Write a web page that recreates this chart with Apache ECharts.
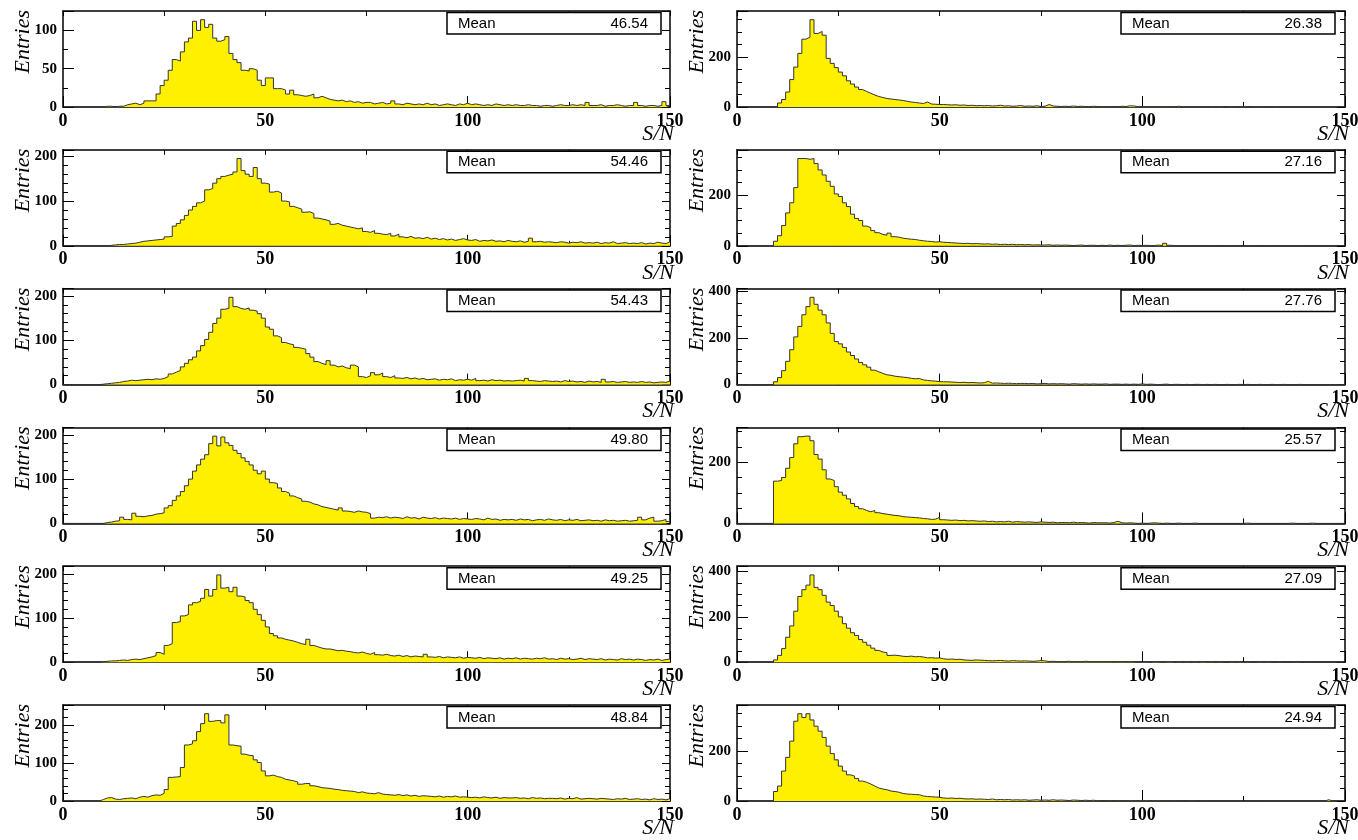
<!DOCTYPE html>
<html>
<head>
<meta charset="utf-8">
<title>S/N distributions</title>
<script src="https://cdn.jsdelivr.net/npm/echarts@6/dist/echarts.min.js"></script>
<style>
  html, body { margin: 0; padding: 0; background: #ffffff; }
  #chart { width: 1358px; height: 840px; }
</style>
</head>
<body>
<div id="chart"></div>
<script>
// S/N histograms, one bin per unit from 0 to 150 (150 bins each)
const binWidth = 1

const snLeft1 = [
  0, 0, 0, 0, 0, 0, 0, 0, 0, 0,
  1, 1, 0, 1, 1, 3, 4, 5, 3, 5,
  8, 8, 8, 17, 28, 35, 48, 62, 60, 72,
  85, 90, 112, 100, 114, 104, 108, 90, 86, 88,
  92, 70, 62, 58, 48, 47, 50, 48, 35, 28,
  38, 38, 24, 24, 22, 17, 22, 16, 15, 14,
  15, 17, 12, 14, 12, 10, 9, 8, 9, 7,
  8, 6, 7, 5, 6, 6, 4, 5, 6, 4,
  5, 8, 4, 3, 5, 4, 3, 4, 3, 5,
  3, 4, 2, 3, 4, 3, 2, 4, 3, 5,
  3, 4, 3, 2, 3, 2, 4, 3, 2, 3,
  2, 3, 2, 2, 3, 2, 2, 1, 2, 2,
  1, 2, 3, 2, 2, 3, 2, 3, 2, 6,
  2, 2, 3, 1, 2, 2, 3, 2, 1, 2,
  2, 6, 2, 1, 2, 2, 1, 2, 7, 2
]
const snLeft2 = [
  0, 0, 0, 0, 0, 0, 0, 0, 0, 0,
  0, 1, 2, 3, 3, 4, 5, 6, 8, 10,
  11, 12, 13, 14, 15, 20, 21, 44, 50, 58,
  68, 80, 88, 96, 100, 125, 128, 140, 150, 155,
  158, 160, 165, 195, 168, 160, 155, 175, 150, 140,
  138, 120, 122, 118, 100, 98, 88, 85, 82, 75,
  76, 72, 62, 60, 58, 55, 48, 50, 46, 44,
  42, 40, 38, 40, 32, 30, 34, 28, 26, 25,
  28, 22, 26, 20, 18, 21, 17, 18, 16, 19,
  15, 17, 14, 16, 13, 15, 12, 14, 16, 13,
  12, 14, 10, 12, 11, 13, 10, 11, 9, 12,
  10, 9, 11, 8, 10, 17, 9, 10, 8, 9,
  8, 7, 9, 8, 6, 8, 7, 9, 6, 7,
  6, 8, 5, 7, 6, 9, 5, 6, 7, 5,
  6, 5, 7, 4, 6, 5, 8, 6, 5, 9
]
const snLeft3 = [
  0, 0, 0, 0, 0, 0, 0, 0, 0, 1,
  2, 3, 4, 5, 7, 8, 10, 9, 10, 11,
  12, 11, 13, 12, 14, 18, 24, 28, 32, 40,
  48, 56, 62, 76, 88, 102, 118, 138, 150, 170,
  172, 197, 176, 172, 170, 173, 168, 166, 160, 150,
  130, 125, 110, 106, 95, 92, 90, 84, 82, 80,
  70, 62, 52, 48, 45, 54, 44, 40, 42, 38,
  36, 44, 40, 18, 16, 20, 27, 22, 26, 18,
  16, 20, 15, 14, 16, 13, 15, 12, 14, 11,
  12, 13, 10, 12, 11, 13, 9, 11, 10, 12,
  10, 14, 9, 10, 8, 11, 9, 10, 8, 9,
  8, 9, 10, 8, 14, 9, 8, 7, 9, 8,
  7, 8, 6, 9, 7, 8, 6, 7, 5, 8,
  6, 7, 5, 12, 6, 7, 5, 6, 7, 5,
  6, 5, 7, 5, 6, 4, 5, 6, 5, 8
]
const snLeft4 = [
  0, 0, 0, 0, 0, 0, 0, 0, 0, 0,
  2, 3, 5, 6, 14, 9, 8, 23, 16, 15,
  17, 18, 21, 22, 24, 35, 40, 52, 62, 72,
  85, 100, 118, 132, 145, 155, 180, 197, 175, 195,
  182, 176, 165, 158, 148, 140, 132, 120, 112, 118,
  100, 92, 90, 80, 72, 68, 62, 58, 55, 50,
  48, 44, 42, 38, 36, 34, 32, 30, 35, 28,
  27, 25, 28, 26, 25, 22, 12, 14, 13, 15,
  12, 14, 13, 11, 15, 12, 13, 10, 14, 12,
  11, 13, 10, 12, 11, 10, 12, 9, 11, 10,
  9, 11, 10, 8, 12, 9, 10, 7, 9, 8,
  9, 7, 10, 8, 9, 6, 8, 9, 7, 10,
  8, 7, 9, 6, 8, 7, 9, 6, 7, 8,
  6, 7, 5, 8, 6, 7, 5, 6, 7, 5,
  6, 7, 14, 8, 12, 14, 5, 6, 9, 4
]
const snLeft5 = [
  0, 0, 0, 0, 0, 0, 0, 0, 0, 1,
  2, 3, 3, 4, 5, 4, 6, 7, 6, 8,
  10, 12, 15, 22, 18, 38, 42, 90, 92, 105,
  108, 130, 135, 138, 145, 165, 150, 165, 198, 168,
  170, 160, 170, 150, 148, 140, 135, 120, 108, 95,
  80, 65, 60, 55, 52, 50, 48, 45, 42, 40,
  52, 38, 35, 32, 30, 30, 28, 26, 27, 25,
  24, 22, 21, 23, 20, 18, 22, 17, 16, 18,
  15, 14, 16, 13, 15, 12, 14, 13, 12, 18,
  12, 11, 13, 10, 12, 11, 10, 12, 9, 11,
  10, 9, 11, 8, 10, 9, 8, 10, 7, 9,
  8, 10, 7, 9, 8, 7, 9, 8, 10, 7,
  8, 6, 9, 7, 8, 6, 7, 9, 6, 8,
  7, 6, 8, 5, 7, 6, 5, 8, 6, 7,
  5, 7, 6, 4, 6, 5, 7, 4, 6, 7
]
const snLeft6 = [
  0, 0, 0, 0, 0, 0, 0, 0, 0, 4,
  8, 9, 5, 4, 6, 7, 8, 6, 10, 12,
  10, 14, 16, 15, 20, 30, 62, 63, 64, 88,
  147, 150, 158, 182, 203, 229, 209, 211, 211, 205,
  226, 147, 145, 144, 123, 120, 119, 108, 101, 79,
  66, 68, 64, 62, 57, 55, 53, 50, 44, 46,
  46, 40, 38, 35, 34, 33, 31, 30, 28, 27,
  26, 25, 22, 24, 21, 20, 19, 22, 18, 17,
  16, 15, 17, 14, 16, 13, 15, 12, 14, 13,
  12, 11, 13, 10, 12, 11, 13, 10, 11, 10,
  9, 10, 8, 11, 9, 8, 10, 7, 9, 8,
  8, 9, 7, 8, 6, 9, 7, 8, 6, 7,
  7, 6, 8, 5, 7, 6, 9, 5, 6, 7,
  6, 5, 7, 6, 5, 4, 6, 5, 7, 4,
  5, 6, 4, 5, 3, 6, 4, 5, 3, 6
]
const snRight1 = [
  0, 0, 0, 0, 0, 0, 0, 0, 0, 0,
  16, 30, 60, 110, 160, 215, 272, 280, 350, 295,
  303, 288, 195, 175, 158, 140, 125, 105, 92, 80,
  70, 62, 55, 48, 42, 38, 34, 32, 30, 28,
  26, 23, 20, 18, 16, 14, 20, 12, 11, 10,
  10, 9, 8, 9, 7, 8, 6, 7, 5, 6,
  5, 6, 4, 5, 7, 4, 5, 3, 4, 6,
  3, 4, 3, 5, 2, 3, 10, 4, 3, 2,
  3, 2, 4, 2, 3, 2, 1, 3, 2, 1,
  2, 1, 2, 1, 3, 2, 5, 4, 1, 2,
  0, 2, 1, 2, 1, 2, 0, 1, 3, 1,
  0, 1, 2, 0, 1, 0, 1, 0, 1, 0,
  0, 1, 0, 0, 1, 0, 0, 1, 1, 0,
  0, 0, 1, 0, 0, 0, 0, 0, 0, 0,
  0, 0, 0, 0, 0, 0, 0, 0, 0, 0
]
const snRight2 = [
  0, 0, 0, 0, 0, 0, 0, 0, 0, 18,
  40, 80, 130, 170, 230, 345, 345, 342, 345, 325,
  300, 280, 255, 235, 205, 195, 170, 155, 125, 108,
  100, 78, 72, 60, 52, 45, 42, 50, 36, 34,
  30, 28, 26, 25, 22, 20, 18, 17, 15, 16,
  14, 13, 12, 11, 10, 9, 10, 8, 9, 8,
  7, 8, 6, 7, 5, 6, 5, 6, 4, 5,
  4, 5, 3, 4, 3, 3, 4, 2, 3, 2,
  3, 2, 1, 2, 3, 1, 2, 2, 1, 2,
  1, 3, 1, 2, 1, 2, 3, 1, 2, 1,
  2, 1, 1, 3, 1, 10, 2, 1, 0, 1,
  0, 1, 0, 1, 0, 0, 1, 0, 0, 0,
  0, 1, 0, 0, 0, 0, 1, 0, 0, 0,
  1, 0, 0, 1, 0, 1, 0, 0, 1, 0,
  0, 0, 0, 0, 0, 0, 0, 0, 0, 0
]
const snRight3 = [
  0, 0, 0, 0, 0, 0, 0, 0, 0, 12,
  30, 60, 100, 150, 205, 250, 300, 335, 375, 345,
  320, 300, 265, 220, 185, 175, 160, 140, 125, 110,
  95, 85, 75, 62, 55, 48, 42, 40, 36, 34,
  32, 30, 27, 25, 26, 20, 18, 16, 15, 13,
  12, 12, 11, 10, 9, 10, 8, 9, 8, 7,
  8, 14, 6, 7, 6, 5, 6, 5, 4, 5,
  5, 4, 5, 3, 4, 5, 3, 4, 3, 4,
  3, 2, 4, 3, 2, 3, 2, 3, 2, 2,
  3, 1, 2, 2, 1, 2, 1, 2, 1, 3,
  1, 2, 1, 0, 1, 2, 0, 1, 1, 0,
  1, 0, 1, 1, 0, 1, 0, 1, 0, 0,
  1, 0, 0, 1, 0, 1, 0, 0, 1, 0,
  0, 1, 0, 0, 1, 0, 0, 0, 1, 0,
  0, 0, 0, 0, 0, 0, 0, 0, 0, 0
]
const snRight4 = [
  0, 0, 0, 0, 0, 0, 0, 0, 0, 138,
  140, 150, 180, 215, 260, 283, 285, 285, 270, 225,
  210, 175, 145, 140, 120, 102, 92, 80, 65, 55,
  48, 42, 38, 42, 35, 32, 30, 28, 26, 25,
  22, 21, 20, 19, 18, 16, 15, 13, 14, 20,
  12, 11, 10, 11, 9, 10, 8, 9, 8, 7,
  8, 6, 7, 5, 6, 5, 7, 4, 6, 5,
  4, 5, 4, 3, 5, 4, 3, 4, 2, 3,
  3, 2, 4, 2, 3, 2, 1, 3, 2, 2,
  2, 1, 3, 7, 2, 1, 2, 1, 0, 1,
  0, 1, 2, 1, 0, 1, 0, 0, 1, 0,
  0, 0, 1, 0, 0, 0, 0, 0, 0, 0,
  0, 0, 0, 0, 0, 1, 0, 0, 0, 0,
  0, 0, 0, 0, 0, 0, 1, 0, 0, 0,
  0, 1, 0, 0, 0, 0, 0, 0, 0, 0
]
const snRight5 = [
  0, 0, 0, 0, 0, 0, 0, 0, 0, 10,
  30, 60, 110, 160, 225, 290, 320, 340, 385, 330,
  320, 295, 265, 250, 225, 200, 170, 150, 130, 118,
  100, 88, 75, 62, 52, 45, 42, 30, 31, 29,
  26, 25, 27, 24, 25, 23, 19, 20, 18, 19,
  15, 13, 14, 12, 13, 10, 9, 8, 10, 9,
  8, 7, 6, 7, 8, 6, 5, 7, 6, 5,
  6, 5, 4, 5, 7, 6, 3, 4, 3, 2,
  3, 4, 2, 3, 2, 4, 3, 2, 3, 2,
  3, 2, 1, 2, 3, 1, 2, 1, 0, 1,
  1, 0, 2, 1, 0, 1, 2, 0, 1, 0,
  1, 0, 1, 0, 2, 0, 1, 0, 1, 0,
  0, 1, 0, 1, 0, 1, 0, 0, 1, 0,
  1, 0, 0, 1, 0, 0, 0, 1, 0, 0,
  0, 0, 0, 0, 0, 0, 0, 0, 1, 0
]
const snRight6 = [
  0, 0, 0, 0, 0, 0, 0, 0, 0, 38,
  60, 120, 175, 240, 320, 350, 335, 350, 325, 300,
  280, 255, 220, 190, 165, 140, 120, 105, 100, 90,
  80, 75, 68, 60, 52, 48, 45, 40, 38, 35,
  30, 28, 27, 26, 25, 20, 18, 17, 16, 15,
  12, 11, 12, 10, 11, 9, 8, 9, 7, 8,
  7, 6, 8, 5, 6, 5, 6, 4, 5, 4,
  5, 3, 4, 5, 3, 4, 3, 5, 3, 4,
  3, 2, 4, 3, 2, 3, 2, 3, 1, 2,
  2, 1, 2, 1, 2, 0, 1, 1, 0, 1,
  1, 0, 1, 1, 0, 1, 0, 1, 0, 0,
  0, 1, 0, 0, 1, 0, 0, 0, 0, 0,
  0, 0, 0, 0, 0, 0, 0, 0, 0, 0,
  0, 0, 0, 0, 0, 0, 0, 0, 0, 0,
  0, 0, 0, 0, 0, 5, 0, 0, 0, 0
]

const meanLeft = ['46.54', '54.46', '54.43', '49.80', '49.25', '48.84']
const meanRight = ['26.38', '27.16', '27.76', '25.57', '27.09', '24.94']

// y tick labels / minor tick steps per panel
const yLabelStepLeft = [50, 100, 100, 100, 100, 100]
const yMinorStepLeft = [25, 20, 20, 20, 20, 20]
const yLabelStepRight = [200, 200, 200, 200, 200, 200]
const yMinorStepRight = [50, 50, 50, 50, 50, 50]

const xMin = 0
const xMax = 150
const xLabelStep = 50
const xMinorStep = 25

const leftHists = [snLeft1, snLeft2, snLeft3, snLeft4, snLeft5, snLeft6]
const rightHists = [snRight1, snRight2, snRight3, snRight4, snRight5, snRight6]

const serif = 'Liberation Serif'
const fillColor = '#fff000'
const colLeft = [63, 737]
const colWidth = [607, 608]
const rowTop = 11
const rowStep = 138.8
const plotHeight = 96

const grid = []
const xAxis = []
const yAxis = []
const series = []
const graphic = []

function addPanel(bins, mean, labelStep, minorStep, col, row) {
  const g = grid.length
  const left = colLeft[col]
  const width = colWidth[col]
  const top = rowTop + rowStep * row
  grid.push({ left: left, top: top, width: width, height: plotHeight, containLabel: false, outerBoundsMode: 'none' })

  // ROOT-like headroom above the highest bin
  const yMax = Math.max(...bins) * 1.1
  const frame = { show: true, onZero: false, lineStyle: { color: '#000', width: 1.5 } }
  const noLine = { show: false, onZero: false }
  const tickStyle = { color: '#000', width: 1 }

  const xi = xAxis.length
  xAxis.push({
    gridIndex: g, type: 'value', position: 'bottom', min: xMin, max: xMax, interval: xLabelStep,
    axisLine: frame,
    axisTick: { inside: true, length: 11, lineStyle: tickStyle },
    minorTick: { show: true, splitNumber: xLabelStep / xMinorStep, length: 5, lineStyle: tickStyle },
    axisLabel: { margin: 5, fontFamily: serif, fontWeight: 'bold', fontSize: 18, color: '#000' },
    splitLine: { show: false }
  })
  xAxis.push({
    gridIndex: g, type: 'value', position: 'top', min: xMin, max: xMax, interval: xMinorStep,
    axisLine: frame,
    axisTick: { inside: true, length: 5, lineStyle: tickStyle },
    axisLabel: { show: false },
    splitLine: { show: false }
  })

  const yi = yAxis.length
  yAxis.push({
    gridIndex: g, type: 'value', position: 'left', min: 0, max: yMax, interval: minorStep,
    axisLine: frame,
    axisTick: { inside: true, length: 5, lineStyle: tickStyle },
    axisLabel: {
      margin: 6, fontFamily: serif, fontWeight: 'bold', fontSize: 15, color: '#000',
      formatter: function (v) { return Math.abs(v % labelStep) < 1e-6 ? String(v) : '' }
    },
    splitLine: { show: false }
  })
  yAxis.push({
    gridIndex: g, type: 'value', position: 'left', min: 0, max: yMax, interval: labelStep,
    axisLine: noLine,
    axisTick: { inside: true, length: 11, lineStyle: tickStyle },
    axisLabel: { show: false },
    splitLine: { show: false }
  })
  yAxis.push({
    gridIndex: g, type: 'value', position: 'right', min: 0, max: yMax, interval: minorStep,
    axisLine: frame,
    axisTick: { inside: true, length: 5, lineStyle: tickStyle },
    axisLabel: { show: false },
    splitLine: { show: false }
  })
  yAxis.push({
    gridIndex: g, type: 'value', position: 'right', min: 0, max: yMax, interval: labelStep,
    axisLine: noLine,
    axisTick: { inside: true, length: 8, lineStyle: tickStyle },
    axisLabel: { show: false },
    splitLine: { show: false }
  })

  const data = bins.map((v, i) => [xMin + i * binWidth, v])
  data.push([xMin + bins.length * binWidth, bins[bins.length - 1]])
  series.push({
    type: 'line', xAxisIndex: xi, yAxisIndex: yi, step: 'end', symbol: 'none', silent: true,
    lineStyle: { color: '#333', width: 1 },
    areaStyle: { color: fillColor, opacity: 1 },
    data: data
  })

  // axis titles
  graphic.push({
    type: 'text', x: left - 40, y: top - 1, rotation: Math.PI / 2, z: 100,
    style: { text: 'Entries', font: 'italic 22px "Liberation Serif"', fill: '#000', align: 'right', verticalAlign: 'middle' }
  })
  graphic.push({
    type: 'text', x: left + width + 4, y: top + plotHeight + 27, z: 100,
    style: { text: 'S/N', font: 'italic 22px "Liberation Serif"', fill: '#000', align: 'right', verticalAlign: 'middle' }
  })

  // stats box
  const boxX = left + 384
  const boxW = 214
  graphic.push({
    type: 'rect', z: 100,
    shape: { x: boxX, y: top + 1.5, width: boxW, height: 21.5 },
    style: { fill: '#fff', stroke: '#000', lineWidth: 1.5 }
  })
  graphic.push({
    type: 'text', x: boxX + 11, y: top + 12.5, z: 101,
    style: { text: 'Mean', font: '15px "Liberation Sans"', fill: '#000', align: 'left', verticalAlign: 'middle' }
  })
  graphic.push({
    type: 'text', x: boxX + boxW - 13, y: top + 12.5, z: 101,
    style: { text: mean, font: '15px "Liberation Sans"', fill: '#000', align: 'right', verticalAlign: 'middle' }
  })
}

for (let r = 0; r < 6; r++) {
  addPanel(leftHists[r], meanLeft[r], yLabelStepLeft[r], yMinorStepLeft[r], 0, r)
  addPanel(rightHists[r], meanRight[r], yLabelStepRight[r], yMinorStepRight[r], 1, r)
}

const chart = echarts.init(document.getElementById('chart'))
chart.setOption({
  backgroundColor: '#ffffff',
  animation: false,
  grid: grid,
  xAxis: xAxis,
  yAxis: yAxis,
  series: series,
  graphic: graphic
})
</script>
</body>
</html>
